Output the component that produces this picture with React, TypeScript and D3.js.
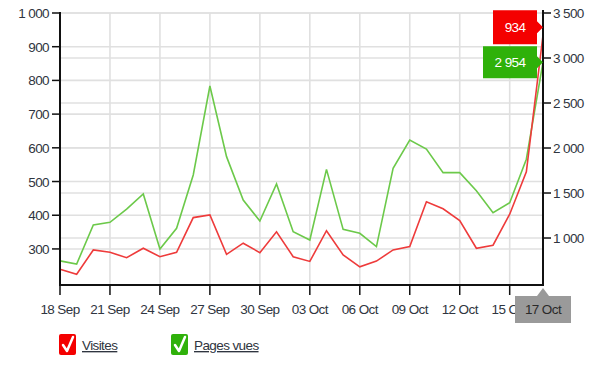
import React from "react";
import * as d3 from "d3";

const startDate = "2012-09-18";
const visites = [240, 225, 297, 290, 274, 302, 277, 290, 393, 401, 284, 317, 289, 351, 277, 263, 354, 282, 247, 264, 297, 307, 440, 419, 384, 302, 311, 403, 529, 934];
const pagesVues = [746, 711, 1144, 1174, 1322, 1489, 878, 1108, 1700, 2689, 1904, 1422, 1189, 1600, 1070, 978, 1763, 1096, 1052, 904, 1774, 2089, 1989, 1726, 1726, 1526, 1281, 1392, 1876, 2954];
const leftTicks = [300, 400, 500, 600, 700, 800, 900, 1000];
const rightTicks = [1000, 1500, 2000, 2500, 3000, 3500];
const xTickLabels = ["18 Sep", "21 Sep", "24 Sep", "27 Sep", "30 Sep", "03 Oct", "06 Oct", "09 Oct", "12 Oct", "15 Oct"];
const legendLabels = ["Visites", "Pages vues"];
const lastLabel = "17 Oct";

const RED = "#ee3b3b";
const GREEN = "#6cc94a";
const RED_BOX = "#f40000";
const GREEN_BOX = "#2fb10a";
const TEXT = "#2f3540";
const GRID = "#e0e0e0";

const locale = d3.formatLocale({ decimal: ",", thousands: " ", grouping: [3], currency: ["", "€"] });
const fmt = locale.format(",d");

export default function App() {
  const left = 60, right = 543, top = 13, bottom = 285;
  const start = new Date(startDate + "T00:00:00Z");
  const dates = visites.map((_, i) => d3.utcDay.offset(start, i));
  const x = d3.scaleUtc().domain([dates[0], dates[dates.length - 1]]).range([left, right]);
  const yL = d3.scaleLinear().domain([193, 1000]).range([bottom, top]);
  const yR = d3.scaleLinear().domain([478, 3500]).range([bottom, top]);
  const tickDates = xTickLabels.map((_, i) => d3.utcDay.offset(start, i * 3));

  const lineL = d3.line<number>().x((_, i) => x(dates[i])).y((d) => yL(d));
  const lineR = d3.line<number>().x((_, i) => x(dates[i])).y((d) => yR(d));

  const font = "'Liberation Sans', Arial, sans-serif";
  const fs = 13.5;
  const ls = -0.6;
  const lastX = x(dates[dates.length - 1]);
  const redY = yL(visites[visites.length - 1]);
  const greenY = yR(pagesVues[pagesVues.length - 1]);

  const flag = (tipX: number, cy: number, w: number, h: number, color: string, label: string) => {
    const bx = tipX - 6 - w;
    const path = `M${bx},${cy - h / 2} H${tipX - 6} V${cy - 6} L${tipX},${cy} L${tipX - 6},${cy + 6} V${cy + h / 2} H${bx} Z`;
    return (
      <g>
        <path d={path} fill={color} />
        <text x={bx + w / 2} y={cy + 5} fill="#fff" fontSize={fs} textAnchor="middle" fontFamily={font} letterSpacing={ls}>{label}</text>
      </g>
    );
  };

  const check = (bx: number, by: number, color: string) => (
    <g>
      <rect x={bx} y={by} width={17} height={21} rx={2} fill={color} />
      <path d={`M${bx + 4},${by + 11} L${bx + 8},${by + 17} L${bx + 14},${by + 3}`} fill="none" stroke="#fff" strokeWidth={2.5} strokeLinejoin="round" strokeLinecap="round" />
    </g>
  );

  return (
    <svg width={600} height={372} style={{ position: "absolute", left: 0, top: 0, background: "#fff" }}>
      <rect width={600} height={372} fill="#fff" />
      {leftTicks.map((t) => (
        <line key={"gl" + t} x1={left} x2={right} y1={yL(t)} y2={yL(t)} stroke={GRID} strokeWidth={1.6} />
      ))}
      {rightTicks.map((t) => (
        <line key={"gr" + t} x1={left} x2={right} y1={yR(t)} y2={yR(t)} stroke={GRID} strokeWidth={1.6} />
      ))}
      {tickDates.map((d, i) => (
        <line key={"gv" + i} x1={x(d)} x2={x(d)} y1={top} y2={bottom} stroke={GRID} strokeWidth={1.6} />
      ))}
      <path d={lineR(pagesVues) || ""} fill="none" stroke={GREEN} strokeWidth={1.6} />
      <path d={lineL(visites) || ""} fill="none" stroke={RED} strokeWidth={1.6} />
      <line x1={left} x2={left} y1={top - 1} y2={bottom + 1} stroke="#111" strokeWidth={2} />
      <line x1={right} x2={right} y1={top - 3} y2={bottom + 1} stroke="#111" strokeWidth={2} />
      <line x1={left - 1} x2={right + 1} y1={bottom} y2={bottom} stroke="#111" strokeWidth={2} />
      {leftTicks.map((t) => (
        <g key={"lt" + t}>
          <line x1={left - 8} x2={left} y1={yL(t)} y2={yL(t)} stroke="#111" strokeWidth={1.5} />
          <text x={left - 11} y={yL(t) + 5} textAnchor="end" fontSize={fs} fill={TEXT} fontFamily={font} letterSpacing={ls}>{fmt(t)}</text>
        </g>
      ))}
      {rightTicks.map((t) => (
        <g key={"rt" + t}>
          <line x1={right} x2={right + 8} y1={yR(t)} y2={yR(t)} stroke="#111" strokeWidth={1.5} />
          <text x={right + 10} y={yR(t) + 5} textAnchor="start" fontSize={fs} fill={TEXT} fontFamily={font} letterSpacing={ls}>{fmt(t)}</text>
        </g>
      ))}
      {tickDates.map((d, i) => (
        <g key={"xt" + i}>
          <line x1={x(d)} x2={x(d)} y1={bottom} y2={bottom + 10} stroke="#111" strokeWidth={1.5} />
          <text x={x(d)} y={bottom + 29} textAnchor="middle" fontSize={fs} fill={TEXT} fontFamily={font} letterSpacing={ls}>{xTickLabels[i]}</text>
        </g>
      ))}
      <path d={`M${lastX - 28},${bottom + 11} H${lastX - 6} L${lastX},${bottom + 3} L${lastX + 6},${bottom + 11} H${lastX + 28} V${bottom + 38} H${lastX - 28} Z`} fill="#9a9a9a" />
      <text x={lastX} y={bottom + 29} textAnchor="middle" fontSize={fs} fill="#2a2a2a" fontFamily={font} letterSpacing={ls}>{lastLabel}</text>
      {flag(lastX, greenY, 54, 32, GREEN_BOX, fmt(pagesVues[pagesVues.length - 1]))}
      {flag(lastX, redY - 8, 44, 34, RED_BOX, fmt(visites[visites.length - 1]))}
      {check(59, 334, RED_BOX)}
      <text x={82} y={350} fontSize={fs} fill={TEXT} fontFamily={font} textDecoration="underline" letterSpacing={ls}>{legendLabels[0]}</text>
      {check(171, 334, GREEN_BOX)}
      <text x={194} y={350} fontSize={fs} fill={TEXT} fontFamily={font} textDecoration="underline" letterSpacing={ls}>{legendLabels[1]}</text>
    </svg>
  );
}
